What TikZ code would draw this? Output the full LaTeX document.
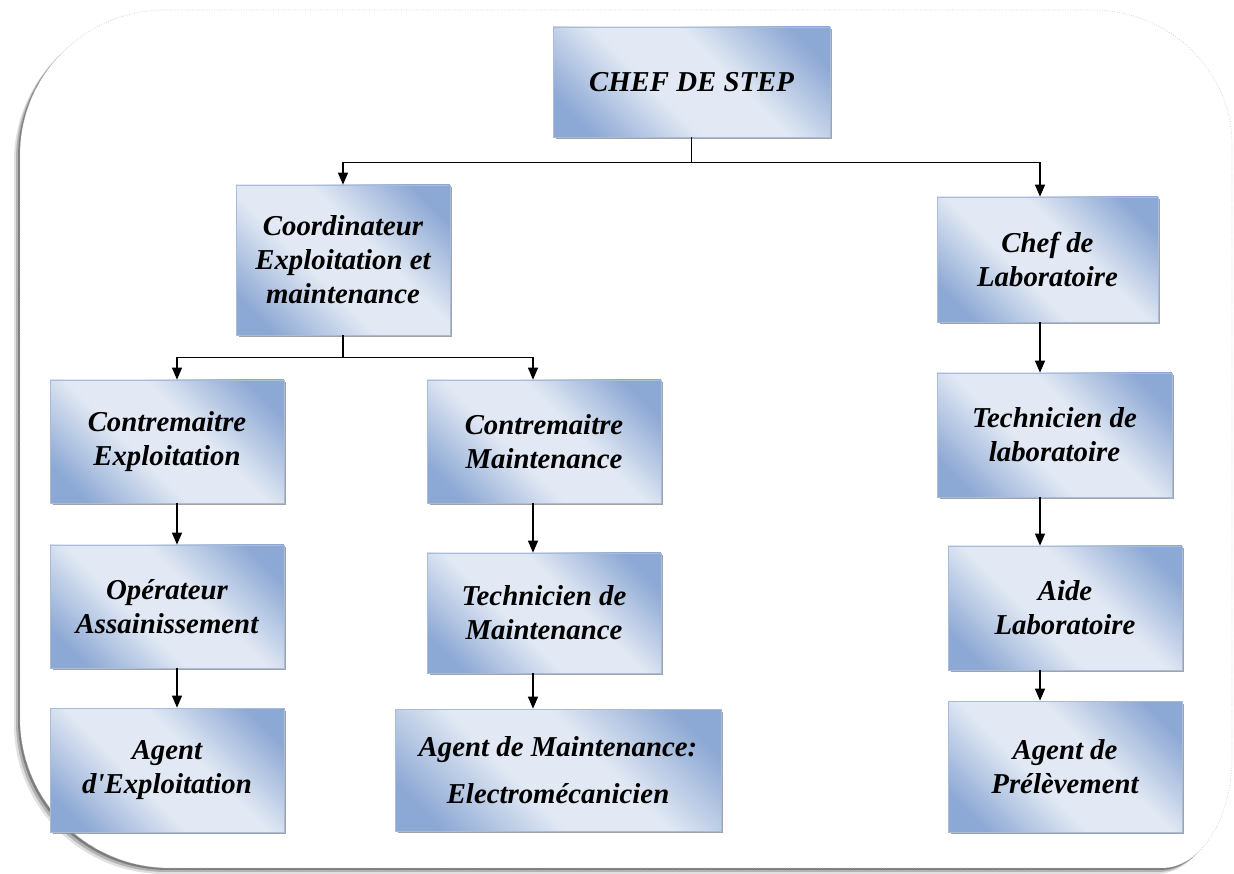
\documentclass[tikz,border=0pt]{standalone}
\usepackage{fontspec}
\setmainfont{Liberation Serif}
\usetikzlibrary{arrows.meta,positioning,shadows,calc}

\definecolor{boxdark}{RGB}{140,168,212}
\definecolor{boxlight}{RGB}{226,233,244}
\definecolor{boxedge}{RGB}{168,188,218}

% dark in two opposite corners, light across the middle
\pgfdeclareverticalshading{postshade}{100bp}{color(0bp)=(boxdark); color(22bp)=(boxdark);
  color(42bp)=(boxlight); color(58bp)=(boxlight); color(78bp)=(boxdark); color(100bp)=(boxdark)}

\tikzset{
  poste/.style={rectangle, draw=boxedge, line width=0.4pt,
    shading=postshade, shading angle=-45,
    drop shadow={shadow xshift=0.05cm, shadow yshift=-0.05cm, fill=black!45, opacity=0.8},
    minimum width=4.68cm, minimum height=2.46cm, inner sep=0pt, align=center,
    font=\fontsize{16.4}{19.4}\selectfont\bfseries\itshape}
}

% outline of the rounded frame
\newcommand{\steppath}{(165,864) -- (1092,864)
  arc[start angle=90, end angle=0, x radius=140, y radius=135]
  -- (1232,116) arc[start angle=0, end angle=-90, x radius=70, y radius=110]
  -- (170,6) arc[start angle=270, end angle=180, radius=150]
  -- (20,719) arc[start angle=180, end angle=90, radius=145] -- cycle}

\begin{document}
\begin{tikzpicture}[x=0.02cm, y=0.02cm, >={Triangle[length=0.24cm,width=0.2cm]}]
    \useasboundingbox (0,0) rectangle (1234,874);
    % frame with its shadow
    \foreach \s/\o in {6/0.12, 4/0.2, 2/0.3}
      \fill[black, opacity=\o, shift={(-\s,-\s)}] \steppath;
    \fill[white] \steppath;
    \draw[gray!40, densely dotted, line width=0.4pt] \steppath;

    \node [poste, minimum width=5.54cm, minimum height=2.2cm]  (chef)    at (691.5,792) {CHEF DE STEP};
    \node [poste, minimum width=4.28cm, minimum height=3cm]    (coord)   at (343,614)   {Coordinateur\\Exploitation et\\maintenance};
    \node [poste, minimum width=4.42cm, minimum height=2.5cm]   (chefl)   at (1047.5,614.5) {Chef de\\Laboratoire};
    \node [poste]                                              (cexp)    at (167,432.5) {Contremaitre\\Exploitation};
    \node [poste]                                              (cmaint)  at (544,432.5) {Contremaitre\\Maintenance};
    \node [poste, minimum width=4.7cm, minimum height=2.48cm]  (techl)   at (1054.5,439) {Technicien de\\laboratoire};
    \node [poste]                                              (oper)    at (167,267.5) {Opérateur\\Assainissement};
    \node [poste, minimum height=2.4cm]                        (techm)   at (544,261)   {Technicien de\\Maintenance};
    \node [poste, minimum height=2.48cm]                       (aide)    at (1065,266)  {Aide\\Laboratoire};
    \node [poste, minimum height=2.48cm]                       (agexp)   at (167,104)   {Agent\\d\textquotesingle Exploitation};
    \node [poste, minimum width=6.52cm, minimum height=2.44cm] (agmaint) at (558,104)   {Agent de Maintenance:\\[0.25cm]Electromécanicien};
    \node [poste, minimum height=2.62cm]                       (prelev)  at (1065,107.5) {Agent de\\Prélèvement};

    % axes of the vertical arrows
    \coordinate (expaxis) at (177,0);
    \coordinate (mntaxis) at (533,0);
    \coordinate (labaxis) at (1040,0);
    \coordinate [below=0.5cm of chef]   (split1);
    \coordinate [below=0.44cm of coord] (split2);

    \draw[->, line width=0.7pt] (chef.south) -- (split1) -| (coord.north);
    \draw[->, line width=0.7pt] (split1) -| (labaxis |- chefl.north);
    \draw[->, line width=0.7pt] (coord.south) -- (split2) -| (expaxis |- cexp.north);
    \draw[->, line width=0.7pt] (split2) -| (mntaxis |- cmaint.north);
    \foreach \a/\b/\c in {cexp/oper/expaxis, oper/agexp/expaxis, cmaint/techm/mntaxis,
        techm/agmaint/mntaxis, chefl/techl/labaxis, techl/aide/labaxis, aide/prelev/labaxis}
      \draw[->, line width=0.7pt] (\c |- \a.south) -- (\c |- \b.north);
\end{tikzpicture}
\end{document}
